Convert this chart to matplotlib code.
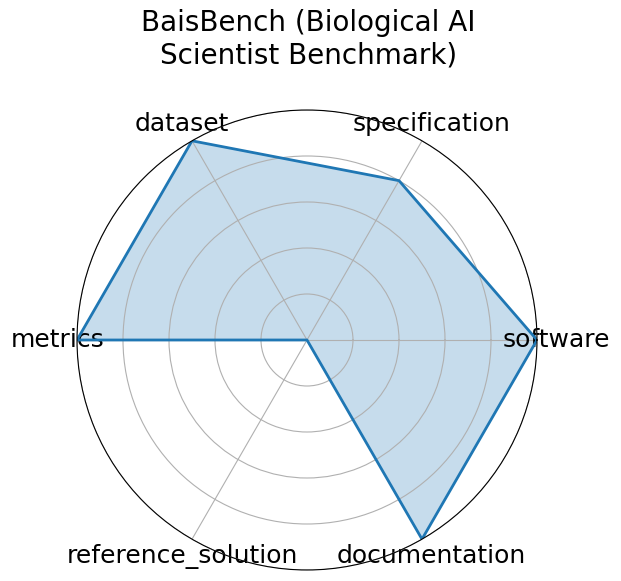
import numpy as np
import matplotlib
matplotlib.use("Agg")
import matplotlib.pyplot as plt

categories = ['software', 'specification', 'dataset', 'metrics',
              'reference_solution', 'documentation']
values = [1.0, 0.8, 1.0, 1.0, 0.0, 1.0]

n = len(categories)
angles = np.linspace(0, 2 * np.pi, n, endpoint=False).tolist()
vals = values + values[:1]
angs = angles + angles[:1]

fig = plt.figure(figsize=(6.21, 5.81), dpi=100)
ax = fig.add_axes([77 / 621, 11 / 581, 460 / 621, 460 / 581], polar=True)

ax.plot(angs, vals, color='tab:blue', linewidth=2)
ax.fill(angs, vals, color='tab:blue', alpha=0.25)

ax.set_ylim(0, 1)
ax.set_yticks([0.2, 0.4, 0.6, 0.8, 1.0])
ax.set_yticklabels([])
ax.set_xticks(angles)
ax.set_xticklabels(categories, fontsize=18)

fig.text(0.497, 0.985, 'BaisBench (Biological AI\nScientist Benchmark)',
         ha='center', va='top', fontsize=20)

fig.savefig('out.png', dpi=100)
